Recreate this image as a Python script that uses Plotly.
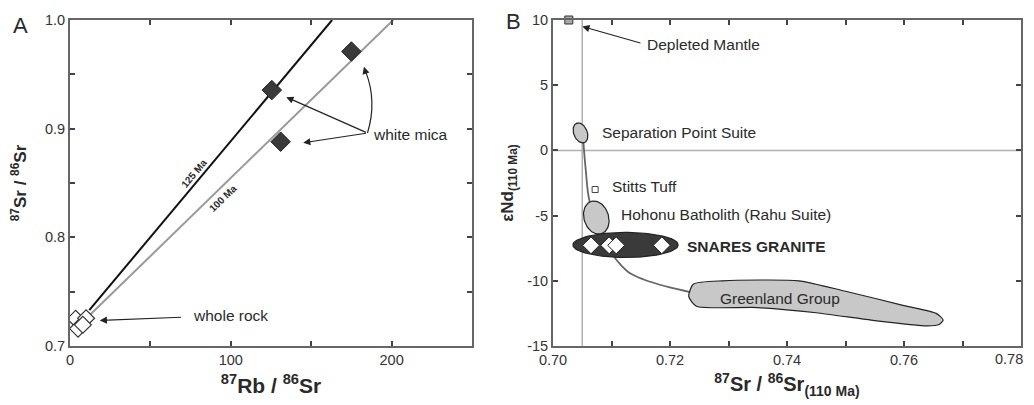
import numpy as np
import plotly.graph_objects as go

# ---------------- data: panel A ----------------
rb_whole = [3.5, 10.0, 5.0, 8.0]
sr_whole = [0.725, 0.7255, 0.716, 0.7195]
rb_mica = [125.5, 131.0, 175.0]
sr_mica = [0.9355, 0.888, 0.971]
iso125_x = [12.0, 163.0]
iso125_y = [0.733, 1.0]
iso100_x = [12.0, 201.0]
iso100_y = [0.728, 1.0]

# ---------------- data: panel B ----------------
dm_x, dm_y = [0.7027], [10.0]
stitts_x, stitts_y = [0.7072], [-3.0]
snares_x = [0.7065, 0.7096, 0.7108, 0.7186]
snares_y = [-7.28, -7.28, -7.28, -7.28]
# ellipses: name, cx, cy, rx, ry, tilt(deg)
ell_names = ["Separation Point Suite", "Hohonu Batholith (Rahu Suite)", "SNARES GRANITE"]
ell_cx = [0.7047, 0.7074, 0.7124]
ell_cy = [1.34, -5.15, -7.25]
ell_rx = [0.00115, 0.0021, 0.0090]
ell_ry = [0.8, 1.3, 0.96]
ell_tilt = [22, 18, 0]
ell_fill = ["#c8c8c8", "#c8c8c8", "#3a3a3a"]
# trend curve
trend_x = [0.7052, 0.7056, 0.7062, 0.7082, 0.7105, 0.7128, 0.7155, 0.7195, 0.7238]
trend_y = [0.6, -1.5, -3.8, -6.5, -8.2, -9.3, -9.9, -10.45, -10.9]
# Greenland Group outline
gl_x = [0.7240, 0.7290, 0.7420, 0.7500, 0.7600, 0.7655, 0.7667, 0.7660, 0.7640,
        0.7550, 0.7450, 0.7350, 0.7245, 0.7232]
gl_y = [-10.25, -10.0, -10.0, -10.8, -11.9, -12.5, -13.0, -13.35, -13.45,
        -13.05, -12.45, -12.05, -11.95, -11.2]

# page has an 8px body margin: build the figure smaller and offset
OFF = 8
W, H = 1034 - OFF, 405 - OFF


def PX(p):
    return (p - OFF) / W


def PY(p):
    return 1 - (p - OFF) / H


dA = [PX(70), PX(472)]
dB = [PX(553), PX(1021)]
dY = [PY(346), PY(20)]
xrB = [0.70, 0.78]
yrB = [-15, 10]
sx = (dB[1] - dB[0]) * W / (xrB[1] - xrB[0])
sy = (dY[1] - dY[0]) * H / (yrB[1] - yrB[0])

fig = go.Figure()
FONT = "Liberation Sans, Arial, sans-serif"
TXT = "#2a2a2a"

# Panel A
fig.add_trace(go.Scatter(x=iso125_x, y=iso125_y, mode="lines", line=dict(color="#111", width=2),
                         xaxis="x", yaxis="y", showlegend=False))
fig.add_trace(go.Scatter(x=iso100_x, y=iso100_y, mode="lines", line=dict(color="#9a9a9a", width=2),
                         xaxis="x", yaxis="y", showlegend=False))
fig.add_trace(go.Scatter(x=rb_whole, y=sr_whole, mode="markers",
                         marker=dict(symbol="diamond", size=13, color="white", line=dict(color="#333", width=1.2)),
                         xaxis="x", yaxis="y", showlegend=False))
fig.add_trace(go.Scatter(x=rb_mica, y=sr_mica, mode="markers",
                         marker=dict(symbol="diamond", size=15, color="#3a3a3a", line=dict(color="#222", width=1)),
                         xaxis="x", yaxis="y", showlegend=False))

# Panel B
fig.add_trace(go.Scatter(x=trend_x, y=trend_y, mode="lines", line=dict(color="#666", width=1.8, shape="spline"),
                         xaxis="x2", yaxis="y2", showlegend=False))
fig.add_trace(go.Scatter(x=gl_x + [gl_x[0]], y=gl_y + [gl_y[0]], mode="lines", fill="toself",
                         fillcolor="#c8c8c8", line=dict(color="#222", width=1.2, shape="spline", smoothing=0.6),
                         xaxis="x2", yaxis="y2", showlegend=False))
t = np.linspace(0, 2 * np.pi, 100)
for i in range(len(ell_names)):
    a = ell_rx[i] * sx
    b = ell_ry[i] * sy
    th = np.radians(ell_tilt[i])
    u = a * np.cos(t)
    v = b * np.sin(t)
    px = u * np.cos(th) - v * np.sin(th)
    py = u * np.sin(th) + v * np.cos(th)
    fig.add_trace(go.Scatter(x=ell_cx[i] + px / sx, y=ell_cy[i] + py / sy, mode="lines", fill="toself",
                             fillcolor=ell_fill[i], line=dict(color="#222", width=1.2),
                             xaxis="x2", yaxis="y2", showlegend=False))
fig.add_trace(go.Scatter(x=snares_x, y=snares_y, mode="markers",
                         marker=dict(symbol="diamond", size=13, color="white", line=dict(color="#222", width=1)),
                         xaxis="x2", yaxis="y2", showlegend=False))
fig.add_trace(go.Scatter(x=dm_x, y=dm_y, mode="markers", cliponaxis=False,
                         marker=dict(symbol="square", size=8, color="#aaaaaa", line=dict(color="#333", width=1)),
                         xaxis="x2", yaxis="y2", showlegend=False))
fig.add_trace(go.Scatter(x=stitts_x, y=stitts_y, mode="markers",
                         marker=dict(symbol="square", size=6, color="white", line=dict(color="#444", width=1)),
                         xaxis="x2", yaxis="y2", showlegend=False))

TICKFONT = dict(family=FONT, size=14.5, color="#333")
axis_common = dict(showline=True, linecolor="#666", linewidth=2, mirror="ticks", ticks="inside",
                   ticklen=5, tickwidth=1.5, tickcolor="#444", showgrid=False, zeroline=False,
                   automargin=False, ticklabeloverflow="allow", tickfont=TICKFONT)

yA_vals = [0.7, 0.75, 0.8, 0.85, 0.9, 0.95, 1.0]
yA_text = ["0.7", "", "0.8", "", "0.9", "", "1.0"]
xA_vals = [0, 50, 100, 150, 200, 250]
xA_text = ["0", "", "100", "", "200", ""]
xB_vals = [0.70, 0.71, 0.72, 0.73, 0.74, 0.75, 0.76, 0.77, 0.78]
xB_text = ["0.70", "", "0.72", "", "0.74", "", "0.76", "", ""]
xB_last = "0.78"   # drawn separately so it stays inside the page edge
yB_vals = [-15, -10, -5, 0, 5, 10]
yB_text = ["-15", "-10", "-5", "0", "5", "10"]

fig.update_layout(
    width=W, height=H, autosize=False, margin=dict(l=0, r=0, t=0, b=0),
    plot_bgcolor="white", paper_bgcolor="white",
    xaxis=dict(domain=dA, range=[0, 250], tickvals=xA_vals, ticktext=xA_text, anchor="y",
               title=dict(text="<b><sup>87</sup>Rb / <sup>86</sup>Sr</b>",
                          font=dict(family=FONT, size=21, color=TXT), standoff=11),
               **axis_common),
    yaxis=dict(domain=dY, range=[0.7, 1.0], tickvals=yA_vals, ticktext=yA_text, anchor="x",
               title=dict(text="<b><sup>87</sup>Sr / <sup>86</sup>Sr</b>",
                          font=dict(family=FONT, size=17, color=TXT), standoff=17),
               **axis_common),
    xaxis2=dict(domain=dB, range=xrB, tickvals=xB_vals, ticktext=xB_text, anchor="y2",
                title=dict(text="<b><sup>87</sup>Sr / <sup>86</sup>Sr<sub>(110 Ma)</sub></b>",
                           font=dict(family=FONT, size=20, color=TXT), standoff=10),
                **axis_common),
    yaxis2=dict(domain=dY, range=yrB, tickvals=yB_vals, ticktext=yB_text, anchor="x2",
                title=dict(text="<b>εNd<sub>(110 Ma)</sub></b>",
                           font=dict(family=FONT, size=17, color=TXT), standoff=9),
                **axis_common),
)

# reference lines in B
fig.add_shape(type="line", xref="x2", yref="y2", x0=0.705, x1=0.705, y0=-15, y1=10,
              line=dict(color="#b0b0b0", width=1.5), layer="below")
fig.add_shape(type="line", xref="x2", yref="y2", x0=0.70, x1=0.78, y0=0, y1=0,
              line=dict(color="#b0b0b0", width=1.5), layer="below")
# curved arrow stem to the 175 mica point
fig.add_shape(type="path", xref="x", yref="y", path="M 185,0.896 Q 191,0.925 184,0.952",
              line=dict(color="#222", width=1.2))

ann = []
LBL = dict(family=FONT, size=15.5, color=TXT)
# last x tick label of panel B
ann.append(dict(text=xB_last, x=xB_vals[-1], y=dY[0], xref="x2", yref="paper", showarrow=False,
                xanchor="center", yanchor="top", xshift=-12, yshift=-3, font=TICKFONT))
# panel letters
ann.append(dict(text="A", xref="paper", yref="paper", x=PX(20), y=PY(25), showarrow=False,
                font=dict(family=FONT, size=22, color=TXT), xanchor="center", yanchor="middle"))
ann.append(dict(text="B", xref="paper", yref="paper", x=PX(513), y=PY(22), showarrow=False,
                font=dict(family=FONT, size=22, color=TXT), xanchor="center", yanchor="middle"))
# isochron labels
ann.append(dict(text="<b>125 Ma</b>", x=77, y=0.859, xref="x", yref="y", showarrow=False, textangle=-50,
                font=dict(family=FONT, size=10, color=TXT)))
ann.append(dict(text="<b>100 Ma</b>", x=95, y=0.836, xref="x", yref="y", showarrow=False, textangle=-44,
                font=dict(family=FONT, size=10, color=TXT)))
# white mica
ann.append(dict(text="white mica", x=187, y=0.895, xref="x", yref="y", showarrow=False, xanchor="left",
                font=LBL))
for hx, hy in [(134.5, 0.929), (145, 0.887)]:
    ann.append(dict(text="", x=hx, y=hy, ax=185, ay=0.896, xref="x", yref="y", axref="x", ayref="y",
                    showarrow=True, arrowhead=2, arrowsize=1.2, arrowwidth=1.2, arrowcolor="#222"))
ann.append(dict(text="", x=182.8, y=0.957, ax=184.0, ay=0.951, xref="x", yref="y", axref="x", ayref="y",
                showarrow=True, arrowhead=2, arrowsize=1.2, arrowwidth=1.2, arrowcolor="#222"))
# whole rock
ann.append(dict(text="whole rock", x=75, y=0.728, xref="x", yref="y", showarrow=False, xanchor="left",
                font=LBL))
ann.append(dict(text="", x=18.5, y=0.7235, ax=70, ay=0.7265, xref="x", yref="y", axref="x", ayref="y",
                showarrow=True, arrowhead=2, arrowsize=1.2, arrowwidth=1.2, arrowcolor="#222"))
# panel B labels
ann.append(dict(text="Depleted Mantle", x=0.7157, y=8.1, xref="x2", yref="y2", showarrow=False, xanchor="left",
                font=LBL))
ann.append(dict(text="", x=0.7050, y=9.5, ax=0.7152, ay=8.2, xref="x2", yref="y2", axref="x2", ayref="y2",
                showarrow=True, arrowhead=2, arrowsize=1.2, arrowwidth=1.2, arrowcolor="#222"))
ann.append(dict(text="Separation Point Suite", x=0.7081, y=1.35, xref="x2", yref="y2", showarrow=False, xanchor="left",
                font=LBL))
ann.append(dict(text="Stitts Tuff", x=0.7097, y=-2.8, xref="x2", yref="y2", showarrow=False, xanchor="left",
                font=LBL))
ann.append(dict(text="Hohonu Batholith (Rahu Suite)", x=0.7112, y=-4.95, xref="x2", yref="y2", showarrow=False, xanchor="left",
                font=LBL))
ann.append(dict(text="<b>SNARES GRANITE</b>", x=0.7225, y=-7.35, xref="x2", yref="y2", showarrow=False, xanchor="left",
                font=dict(family=FONT, size=15.5, color=TXT)))
ann.append(dict(text="Greenland Group", x=0.7388, y=-11.35, xref="x2", yref="y2", showarrow=False, xanchor="center",
                font=LBL))
fig.update_layout(annotations=ann)

fig.write_html("out.html")
